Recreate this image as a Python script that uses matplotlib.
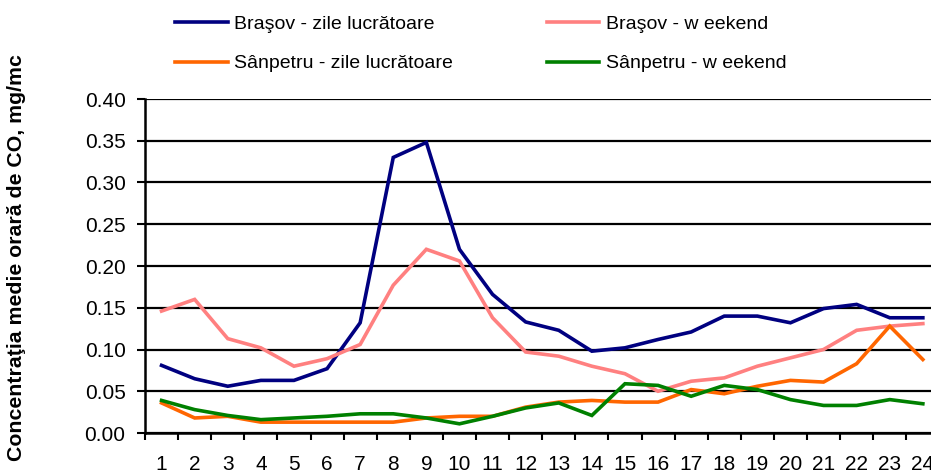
import numpy as np
import matplotlib
matplotlib.use('Agg')
import matplotlib.pyplot as plt

plt.rcParams['font.family'] = ['Liberation Sans', 'DejaVu Sans']

# hours of day
hours = list(range(1, 25))

# mean hourly CO concentration, mg/mc
brasov_work = [0.081, 0.065, 0.056, 0.063, 0.063, 0.077, 0.132, 0.330, 0.348, 0.220, 0.166, 0.133,
               0.123, 0.098, 0.102, 0.112, 0.121, 0.140, 0.140, 0.132, 0.149, 0.154, 0.138, 0.138]
brasov_weekend = [0.146, 0.160, 0.113, 0.102, 0.080, 0.089, 0.106, 0.177, 0.220, 0.206, 0.138, 0.097,
                  0.092, 0.080, 0.071, 0.050, 0.062, 0.066, 0.080, 0.090, 0.100, 0.123, 0.128, 0.131]
sanpetru_work = [0.036, 0.018, 0.020, 0.013, 0.013, 0.013, 0.013, 0.013, 0.018, 0.020, 0.020, 0.031,
                 0.037, 0.039, 0.037, 0.037, 0.052, 0.047, 0.056, 0.063, 0.061, 0.083, 0.128, 0.088]
sanpetru_weekend = [0.039, 0.028, 0.021, 0.016, 0.018, 0.020, 0.023, 0.023, 0.018, 0.011, 0.020, 0.030,
                    0.036, 0.021, 0.059, 0.057, 0.044, 0.057, 0.052, 0.040, 0.033, 0.033, 0.040, 0.035]

labels = ['Braşov - zile lucrătoare', 'Braşov - w eekend',
          'Sânpetru - zile lucrătoare', 'Sânpetru - w eekend']
colors = ['#000080', '#FF8080', '#FF6600', '#008000']

W, H = 931, 473
fig = plt.figure(figsize=(W / 100, H / 100), dpi=100)
ax = fig.add_axes([145 / W, (H - 433) / H, 24 * 33.1 / W, 334 / H])

series = [brasov_work, brasov_weekend, sanpetru_work, sanpetru_weekend]
lines = []
for s, lab, c in zip(series, labels, colors):
    ln, = ax.plot(hours, s, color=c, lw=2.6, label=lab, solid_joinstyle='miter')
    lines.append(ln)

ax.set_xlim(0.5, 24.5)
ax.set_ylim(0, 0.40)
yt = np.arange(0, 0.41, 0.05)
ax.set_yticks(yt)
ax.set_yticklabels(['%.2f' % v for v in yt])
ax.yaxis.grid(True, color='black', lw=1.6)
ax.set_axisbelow(True)

# category axis: ticks between categories, labels at centres
ax.set_xticks(np.arange(0.5, 25, 1))
ax.set_xticklabels([])
ax.set_xticks(hours, minor=True)
ax.set_xticklabels([str(h) for h in hours], minor=True)
ax.tick_params(axis='x', which='major', direction='out', length=5, width=1.5)
ax.tick_params(axis='x', which='minor', length=0, pad=16, labelsize=15)
ax.tick_params(axis='y', direction='out', length=6, width=1.5, pad=8, labelsize=15)

for sp in ['top', 'right']:
    ax.spines[sp].set_visible(False)
for sp in ['left', 'bottom']:
    ax.spines[sp].set_linewidth(1.8)

fig.text(17 / W, 1 - 258 / H, 'Concentraţia medie orară de CO, mg/mc', rotation=90,
         fontsize=15.3, fontweight='bold', ha='center', va='center')

# legend rows: Braşov on top, Sânpetru below (ncol fills column-wise)
order = [0, 2, 1, 3]
fig.legend(handles=[lines[i] for i in order], labels=[labels[i] for i in order],
           ncol=2, loc='upper left',
           bbox_to_anchor=(175 / W, 1 - 15 / H), frameon=False, fontsize=14,
           handlelength=2.7, handletextpad=0.35, columnspacing=4.8,
           labelspacing=1.14, borderpad=0, borderaxespad=0)

fig.savefig('out.png', dpi=100)
